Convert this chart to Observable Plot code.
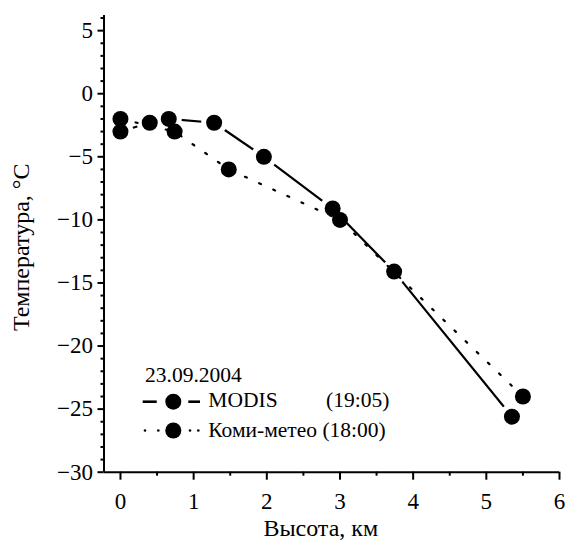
<!DOCTYPE html>
<html>
<head>
<meta charset="utf-8">
<script src="https://cdn.jsdelivr.net/npm/d3@7"></script>
<script src="https://cdn.jsdelivr.net/npm/@observablehq/plot@0.6"></script>
<style>
  html, body { margin: 0; padding: 0; background: #fff; }
  #wrap { position: relative; width: 566px; height: 542px; overflow: hidden; }
  #legend { position: absolute; left: 0; top: 0; pointer-events: none; }
  #legend text { font-family: "Liberation Serif", "Times New Roman", serif; font-size: 21.5px; fill: #000; }
</style>
</head>
<body>
<div id="wrap"></div>
<script>
// ---- data ----
const modisHeight = [0, 0.4, 0.66, 1.28, 1.96, 2.9, 3.74, 5.35];
const modisTemp   = [-3, -2.3, -2.0, -2.3, -5.0, -9.1, -14.1, -25.6];
const komiHeight  = [0, 0.74, 1.48, 3.0, 5.5];
const komiTemp    = [-2, -3, -6, -10, -24];

const xTicks = [0, 1, 2, 3, 4, 5, 6];
const xMinorTicks = [0.5, 1.5, 2.5, 3.5, 4.5, 5.5];
const yTicks = [5, 0, -5, -10, -15, -20, -25, -30];
const yMinorTicks = [6, 4, 3, 2, 1, -1, -2, -3, -4, -6, -7, -8, -9, -11, -12, -13, -14, -16, -17, -18, -19, -21, -22, -23, -24, -26, -27, -28, -29];

const xLabel = "Высота, км";
const yLabel = "Температура, °C";
const legendTitle = "23.09.2004";
const seriesNames = ["MODIS", "Коми-метео (18:00)"];
const modisTime = "(19:05)";

const modis = modisHeight.map((h, i) => ({h, t: modisTemp[i]}));
const komi = komiHeight.map((h, i) => ({h, t: komiTemp[i]}));

const xMin = -0.225, xMax = 6, yMin = -30, yMax = 6.2;
const fmt = d => d < 0 ? "\u2212" + Math.abs(d) : String(d);

const chart = Plot.plot({
  width: 566,
  height: 542,
  marginLeft: 103.5,
  marginRight: 7,
  marginTop: 15,
  marginBottom: 70.3,
  style: {fontFamily: "'Liberation Serif', 'Times New Roman', serif", fontSize: "23px", background: "white", color: "black", overflow: "visible"},
  x: {domain: [xMin, xMax]},
  y: {domain: [yMin, yMax]},
  marks: [
    Plot.axisX({ticks: xTicks, tickSize: 8, tickPadding: 12.5, strokeWidth: 2, tickFormat: fmt, label: null, fontSize: 23}),
    Plot.axisX({ticks: xMinorTicks, tickSize: 4, strokeWidth: 2, fill: "none", label: null}),
    Plot.axisY({ticks: yTicks, tickSize: 6, tickPadding: 5, strokeWidth: 2, tickFormat: fmt, label: null, fontSize: 23}),
    Plot.axisY({ticks: yMinorTicks, tickSize: 3, strokeWidth: 2, fill: "none", label: null}),
    Plot.ruleX([xMin], {strokeWidth: 2}),
    Plot.ruleY([yMin], {strokeWidth: 2}),
    Plot.line(modis, {x: "h", y: "t", stroke: "black", strokeWidth: 2.2}),
    Plot.dot(modis, {x: "h", y: "t", r: 13, fill: "white", stroke: "none"}),
    Plot.line(komi, {x: "h", y: "t", stroke: "black", strokeWidth: 2.2, strokeDasharray: "2,13.5"}),
    Plot.dot(modis, {x: "h", y: "t", r: 8, fill: "black", stroke: "none"}),
    Plot.dot(komi, {x: "h", y: "t", r: 8, fill: "black", stroke: "none"}),
    Plot.text([xLabel], {frameAnchor: "bottom", lineAnchor: "top", textAnchor: "middle", dy: 46.5, dx: -11, fontSize: 24}),
    Plot.text([yLabel], {frameAnchor: "left", lineAnchor: "top", textAnchor: "middle", rotate: -90, dx: -92, dy: 3.5, fontSize: 24})
  ]
});

const wrap = document.getElementById("wrap");
wrap.appendChild(chart);

// ---- legend (SVG overlay, like a swatch legend) ----
const ns = "http://www.w3.org/2000/svg";
const lg = document.createElementNS(ns, "svg");
lg.setAttribute("id", "legend");
lg.setAttribute("width", 566);
lg.setAttribute("height", 542);
function el(name, attrs, text) {
  const e = document.createElementNS(ns, name);
  for (const k in attrs) e.setAttribute(k, attrs[k]);
  if (text != null) e.textContent = text;
  lg.appendChild(e);
  return e;
}
el("text", {x: 145, y: 381.7}, legendTitle);
// MODIS swatch
el("line", {x1: 142.7, x2: 156.7, y1: 401.7, y2: 401.7, stroke: "black", "stroke-width": 2.6});
el("line", {x1: 188.3, x2: 200, y1: 401.7, y2: 401.7, stroke: "black", "stroke-width": 2.6});
el("circle", {cx: 173.3, cy: 401.7, r: 8, fill: "black"});
el("text", {x: 208.3, y: 407.3}, seriesNames[0]);
el("text", {x: 326, y: 407.3}, modisTime);
// Komi swatch
for (const cx of [145, 158.3, 190, 198.3]) el("circle", {cx, cy: 430.5, r: 1.3, fill: "black"});
el("circle", {cx: 173.3, cy: 430.5, r: 8, fill: "black"});
el("text", {x: 208.3, y: 437.3}, seriesNames[1]);
wrap.appendChild(lg);
</script>
</body>
</html>
